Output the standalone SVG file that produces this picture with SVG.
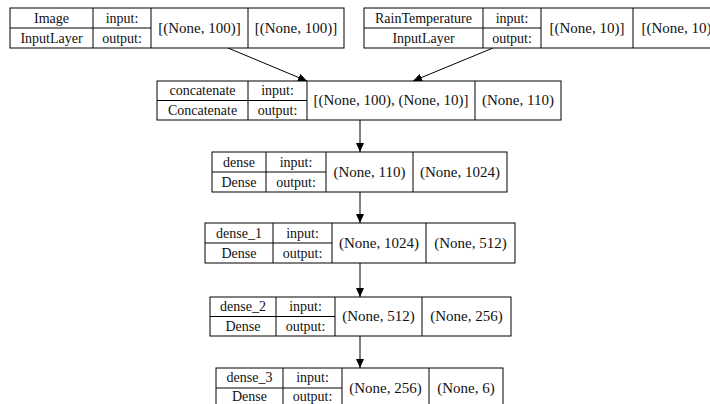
<svg xmlns="http://www.w3.org/2000/svg" width="710" height="404" viewBox="0 0 710 404">
<style>
  rect.b { fill: #fff; stroke: #000; stroke-width: 1; }
  line.d { stroke: #000; stroke-width: 1; }
  text { font-family: 'Liberation Serif', 'Times New Roman', serif; font-size: 14px; fill: #111; text-anchor: middle; }
  text.v { font-size: 15px; }
  .c { stroke: #000; stroke-width: 1; fill: none; }
</style>
<defs>
  <marker id="ah" markerUnits="userSpaceOnUse" markerWidth="9" markerHeight="8" refX="9" refY="4" orient="auto">
    <path d="M0,0 L9,4 L0,8 z" fill="#000"/>
  </marker>
</defs>
<rect width="710" height="404" fill="#fff"/>
<g id="connectors">
  <line class="c" x1="228" y1="48" x2="307" y2="81" marker-end="url(#ah)"/>
  <line class="c" x1="493" y1="48" x2="413" y2="81" marker-end="url(#ah)"/>
  <line class="c" x1="360" y1="120" x2="360" y2="152" marker-end="url(#ah)"/>
  <line class="c" x1="360" y1="192" x2="360" y2="223" marker-end="url(#ah)"/>
  <line class="c" x1="360" y1="263" x2="360" y2="297" marker-end="url(#ah)"/>
  <line class="c" x1="360" y1="336" x2="360" y2="368" marker-end="url(#ah)"/>
</g>
<g id="image">
  <rect class="b" x="10" y="8" width="334" height="40"/>
  <line class="d" x1="93" y1="8" x2="93" y2="48"/>
  <line class="d" x1="151" y1="8" x2="151" y2="48"/>
  <line class="d" x1="248" y1="8" x2="248" y2="48"/>
  <line class="d" x1="10" y1="28" x2="151" y2="28"/>
  <text x="51.5" y="23">Image</text>
  <text x="51.5" y="43">InputLayer</text>
  <text x="122" y="23">input:</text>
  <text x="122" y="43">output:</text>
  <text class="v" x="199.5" y="33">[(None, 100)]</text>
  <text class="v" x="296" y="33">[(None, 100)]</text>
</g>
<g id="raintemperature">
  <rect class="b" x="364" y="8" width="362" height="40"/>
  <line class="d" x1="483" y1="8" x2="483" y2="48"/>
  <line class="d" x1="541" y1="8" x2="541" y2="48"/>
  <line class="d" x1="633" y1="8" x2="633" y2="48"/>
  <line class="d" x1="364" y1="28" x2="541" y2="28"/>
  <text x="423.5" y="23">RainTemperature</text>
  <text x="423.5" y="43">InputLayer</text>
  <text x="512" y="23">input:</text>
  <text x="512" y="43">output:</text>
  <text class="v" x="587" y="33">[(None, 10)]</text>
  <text class="v" x="679" y="33">[(None, 10)]</text>
</g>
<g id="concatenate">
  <rect class="b" x="157" y="81" width="404" height="39"/>
  <line class="d" x1="248" y1="81" x2="248" y2="120"/>
  <line class="d" x1="307" y1="81" x2="307" y2="120"/>
  <line class="d" x1="475" y1="81" x2="475" y2="120"/>
  <line class="d" x1="157" y1="100.5" x2="307" y2="100.5"/>
  <text x="202.5" y="95">concatenate</text>
  <text x="202.5" y="115">Concatenate</text>
  <text x="277.5" y="95">input:</text>
  <text x="277.5" y="115">output:</text>
  <text class="v" x="391" y="105">[(None, 100), (None, 10)]</text>
  <text class="v" x="518" y="105">(None, 110)</text>
</g>
<g id="dense">
  <rect class="b" x="212" y="152" width="295" height="40"/>
  <line class="d" x1="266" y1="152" x2="266" y2="192"/>
  <line class="d" x1="326" y1="152" x2="326" y2="192"/>
  <line class="d" x1="413" y1="152" x2="413" y2="192"/>
  <line class="d" x1="212" y1="172" x2="326" y2="172"/>
  <text x="239" y="167">dense</text>
  <text x="239" y="187">Dense</text>
  <text x="296" y="167">input:</text>
  <text x="296" y="187">output:</text>
  <text class="v" x="369.5" y="177">(None, 110)</text>
  <text class="v" x="460" y="177">(None, 1024)</text>
</g>
<g id="dense_1">
  <rect class="b" x="205" y="223" width="310" height="40"/>
  <line class="d" x1="273" y1="223" x2="273" y2="263"/>
  <line class="d" x1="332" y1="223" x2="332" y2="263"/>
  <line class="d" x1="426" y1="223" x2="426" y2="263"/>
  <line class="d" x1="205" y1="243" x2="332" y2="243"/>
  <text x="239" y="238">dense_1</text>
  <text x="239" y="258">Dense</text>
  <text x="302.5" y="238">input:</text>
  <text x="302.5" y="258">output:</text>
  <text class="v" x="379" y="248">(None, 1024)</text>
  <text class="v" x="470.5" y="248">(None, 512)</text>
</g>
<g id="dense_2">
  <rect class="b" x="210" y="297" width="301" height="39"/>
  <line class="d" x1="276" y1="297" x2="276" y2="336"/>
  <line class="d" x1="335" y1="297" x2="335" y2="336"/>
  <line class="d" x1="422" y1="297" x2="422" y2="336"/>
  <line class="d" x1="210" y1="316.5" x2="335" y2="316.5"/>
  <text x="243" y="311">dense_2</text>
  <text x="243" y="331">Dense</text>
  <text x="305.5" y="311">input:</text>
  <text x="305.5" y="331">output:</text>
  <text class="v" x="378.5" y="321">(None, 512)</text>
  <text class="v" x="466.5" y="321">(None, 256)</text>
</g>
<g id="dense_3">
  <rect class="b" x="216" y="368" width="287" height="40"/>
  <line class="d" x1="283" y1="368" x2="283" y2="408"/>
  <line class="d" x1="342" y1="368" x2="342" y2="408"/>
  <line class="d" x1="429" y1="368" x2="429" y2="408"/>
  <line class="d" x1="216" y1="388" x2="342" y2="388"/>
  <text x="249.5" y="382">dense_3</text>
  <text x="249.5" y="401">Dense</text>
  <text x="312.5" y="382">input:</text>
  <text x="312.5" y="401">output:</text>
  <text class="v" x="385.5" y="393">(None, 256)</text>
  <text class="v" x="466" y="393">(None, 6)</text>
</g>
</svg>
